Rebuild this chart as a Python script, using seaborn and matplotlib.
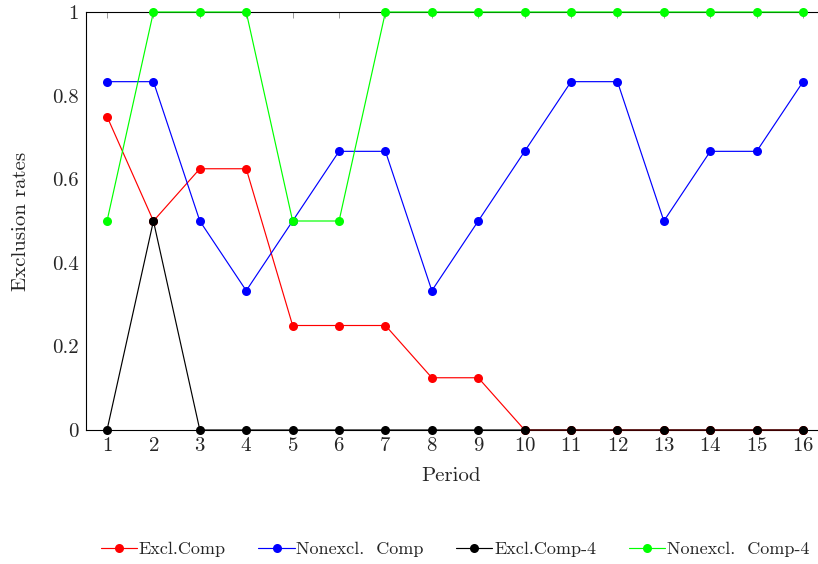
import numpy as np
import pandas as pd
import matplotlib
matplotlib.use("Agg")
import matplotlib.pyplot as plt
import seaborn as sns
from matplotlib.ticker import FuncFormatter

periods = list(range(1, 17))
excl_comp = [0.75, 0.5, 0.625, 0.625, 0.25, 0.25, 0.25, 0.125, 0.125, 0, 0, 0, 0, 0, 0, 0]
nonexcl_comp = [5/6, 5/6, 0.5, 1/3, 0.5, 2/3, 2/3, 1/3, 0.5, 2/3, 5/6, 5/6, 0.5, 2/3, 2/3, 5/6]
excl_comp4 = [0, 0.5, 0, 0, 0, 0, 0, 0, 0, 0, 0, 0, 0, 0, 0, 0]
nonexcl_comp4 = [0.5, 1, 1, 1, 0.5, 0.5, 1, 1, 1, 1, 1, 1, 1, 1, 1, 1]
series_names = ["Excl.Comp", "Nonexcl.  Comp", "Excl.Comp-4", "Nonexcl.  Comp-4"]
colors = ["#ff0000", "#0000ff", "#000000", "#00ff00"]

df = pd.DataFrame({
    "Period": periods * 4,
    "rate": excl_comp + nonexcl_comp + excl_comp4 + nonexcl_comp4,
    "series": sum([[n] * 16 for n in series_names], []),
})

sns.set_style("white")
plt.rcParams["font.family"] = ["cmr10", "DejaVu Serif"]
plt.rcParams["axes.formatter.use_mathtext"] = True
plt.rcParams["mathtext.fontset"] = "cm"

fig = plt.figure(figsize=(8.18, 5.64), dpi=100)
ax = fig.add_axes([86/818, 1 - 430/564, 731/818, 418/564])

sns.lineplot(data=df, x="Period", y="rate", hue="series", hue_order=series_names,
             palette=colors, marker="o", markersize=6.5, markeredgewidth=0,
             linewidth=0.85, dashes=False, ax=ax, legend=True)
for i, ln in enumerate(ax.lines):
    ln.set_clip_on(False)
    ln.set_zorder(3 + i)

ax.set_xlim(0.547, 16.3)
ax.set_ylim(0, 1)
ax.set_xticks(periods)
ax.set_yticks([0, 0.2, 0.4, 0.6, 0.8, 1])
ax.yaxis.set_major_formatter(FuncFormatter(lambda v, p: f"{v:g}"))
ax.tick_params(axis="both", direction="in", length=4, width=0.6, color="#888888",
               labelsize=15, pad=5)
ax.tick_params(axis="x", top=True)
for s in ["left", "bottom", "top"]:
    ax.spines[s].set_visible(True)
    ax.spines[s].set_color("black")
    ax.spines[s].set_linewidth(0.8)
ax.spines["right"].set_visible(False)
ax.set_xlabel("Period", fontsize=15, labelpad=9)
ax.set_ylabel("Exclusion rates", fontsize=15, labelpad=16)

handles, labels = ax.get_legend_handles_labels()
ax.legend(handles, labels, loc="center", bbox_to_anchor=(455/818, 15/564),
          bbox_transform=fig.transFigure, ncol=4, frameon=False, fontsize=13,
          handlelength=2.0, handletextpad=0.1, columnspacing=1.8)

fig.savefig("out.png", dpi=100)
